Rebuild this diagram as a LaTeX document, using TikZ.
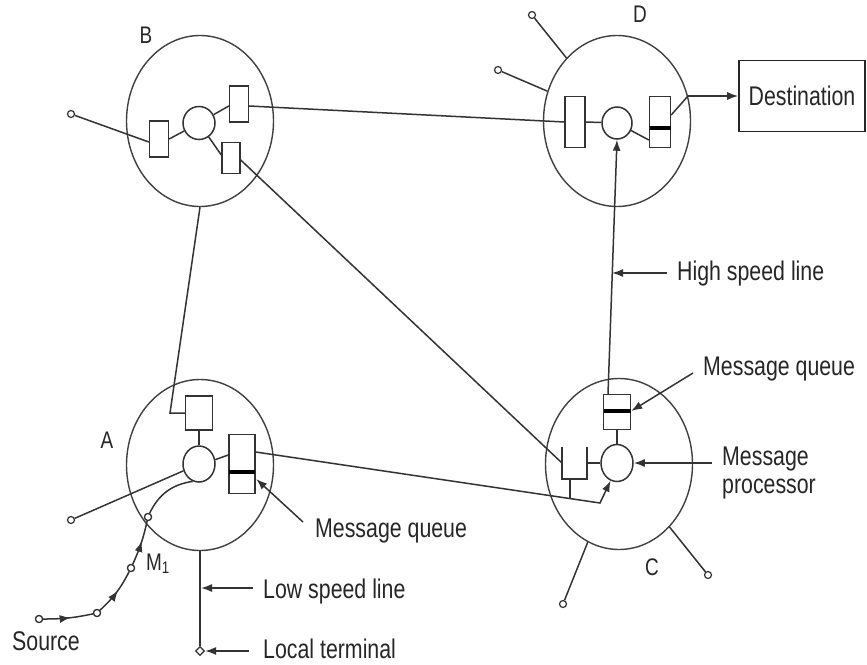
\documentclass[tikz,border=0pt]{standalone}
\usepackage{fontspec}
\usepackage{graphicx}
\setmainfont{Liberation Sans}
\usetikzlibrary{shapes.geometric,arrows.meta,decorations.markings,calc}

% narrow sans lettering
\newcommand\nw[1]{\scalebox{0.79}[1]{#1}}

\tikzset{
  ln/.style={line width=1.5pt, draw=black!80},
  site/.style={ellipse, draw=black!75, line width=1.4pt, minimum width=147pt, minimum height=171pt, inner sep=0},
  proc/.style={ellipse, draw=black!80, line width=1.5pt, inner sep=0, fill=white},
  queue/.style={rectangle, draw=black!80, line width=1.4pt, inner sep=0, fill=white},
  term/.style={circle, draw=black!80, line width=1.2pt, minimum size=7pt, inner sep=0, fill=white},
  dterm/.style={diamond, draw=black!80, line width=1.2pt, minimum size=9pt, inner sep=0, fill=white},
  tip/.style={-{Latex[length=11pt,width=8pt]}},
  bar/.style={line width=3.5pt, draw=black},
  txt/.style={font=\fontsize{27}{28}\selectfont, inner sep=0, text=black!85},
  sitelbl/.style={font=\fontsize{24}{24}\selectfont, inner sep=0, text=black!85},
  midarrow/.style={postaction={decorate}, decoration={markings,
      mark=at position 0.55 with {\arrow{Latex[length=11pt,width=8pt]}}}},
}

\begin{document}
\begin{tikzpicture}[x=1pt, y=-1pt]
\useasboundingbox (0,0) rectangle (867,664);

% ---------- switching sites ----------
\node[site] (B) at (200,121) {};
\node[site] (D) at (617,121) {};
\node[site] (A) at (200,465) {};
\node[site] (C) at (619,464) {};

\node[sitelbl] at (146,35) {\nw{B}};
\node[sitelbl] at (640,14) {\nw{D}};
\node[sitelbl] at (107,440) {\nw{A}};
\node[sitelbl] at (652,567) {\nw{C}};

% ---------- site B ----------
\node[proc, minimum width=32pt, minimum height=33pt] (Bp) at (199,123) {};
\node[queue, minimum width=19pt, minimum height=36pt] (Bq1) at (159,139) {};
\node[queue, minimum width=19pt, minimum height=36pt] (Bq2) at (239,104) {};
\node[queue, minimum width=18pt, minimum height=31pt] (Bq3) at (231,158) {};
\node[term] (Bt) at (71,114) {};

% ---------- site D ----------
\node[proc, minimum width=30pt, minimum height=32pt] (Dp) at (617,123) {};
\node[queue, minimum width=20pt, minimum height=51pt] (Dq1) at (575,122) {};
\node[queue, minimum width=21pt, minimum height=51pt] (Dq2) at (660,122) {};
\node[term] (Dt1) at (532,15) {};
\node[term] (Dt2) at (498,70) {};
\node[draw=black!85, line width=1.6pt, minimum width=126pt, minimum height=71pt, inner sep=0] (Dest) at (802,96) {};
\node[txt] at (Dest) {\nw{Destination}};
\coordinate (Dx) at (688,96);

% ---------- site A ----------
\node[proc, minimum width=32pt, minimum height=36pt] (Ap) at (199,464) {};
\node[queue, minimum width=27pt, minimum height=34pt] (Aq1) at (199,413) {};
\node[queue, minimum width=26pt, minimum height=59pt] (Aq2) at (242,464) {};
\node[term] (At) at (71,520) {};
\node[term] (Am) at (148,517) {};
\node[dterm] (Lt) at (200,651) {};
\coordinate (Bend) at (170,413);

% ---------- site C ----------
\node[proc, minimum width=32pt, minimum height=37pt] (Cp) at (617,463) {};
\node[queue, minimum width=27pt, minimum height=35pt] (Cq) at (617,412) {};
\node[term] (Ct1) at (563,604) {};
\node[term] (Ct2) at (708,575) {};
\coordinate (Cu) at (574.5,463);   % centre of the open receive buffer
\coordinate (Cj) at (600,503);

% ---------- source ----------
\node[term] (S0) at (39,619) {};
\node[term] (S1) at (97,613) {};
\node[term] (S2) at (131,568) {};

% ---------- internal wiring of B ----------
\draw[ln] (Bt) -- ($(Bq1.west)+(0,3)$);
\draw[ln] (Bq1.east) -- (Bp);
\draw[ln] (Bp) -- ($(Bq2.west)+(0,2)$);
\draw[ln] (Bp) -- ($(Bq3.west)+(0,-3)$);

% ---------- internal wiring of D ----------
\draw[ln] (Dt1) -- (D);
\draw[ln] (Dt2) -- (D);
\draw[ln] (Dq1.east) -- (Dp);
\draw[ln] (Dp) -- ($(Dq2.west)+(0,18)$);
\draw[ln] ($(Dq2.east)+(0,-7)$) -- (Dx);
\draw[ln, tip] (Dx) -- (Dest.west);
\draw[bar] ($(Dq2.west)+(0.7,6)$) -- ($(Dq2.east)+(-0.7,6)$);

% ---------- internal wiring of A ----------
\draw[ln] (Aq1) -- (Ap);
\draw[ln] (Ap.15) -- ($(Aq2.west)+(0,-9)$);
\draw[ln] (At) -- (Ap);
\draw[ln] (Am) to[bend left=28] (Ap.250);
\draw[bar] ($(Aq2.west)+(0.7,8)$) -- ($(Aq2.east)+(-0.7,8)$);

% ---------- internal wiring of C ----------
\draw[ln] (Cq) -- (Cp);
\draw[ln] ($(Cu)+(-12.5,-16)$) -- ($(Cu)+(-12.5,16)$) -- ($(Cu)+(12.5,16)$) -- ($(Cu)+(12.5,-16)$);
\draw[ln] ($(Cu)+(12.5,0)$) -- (Cp.west);
\draw[ln] ($(Cu)+(-4.5,16)$) -- ($(Cu)+(-4.5,35)$);
\draw[ln] (Ct1) -- (C);
\draw[ln] (Ct2) -- (C);
\draw[bar] ($(Cq.west)+(0.7,-1)$) -- ($(Cq.east)+(-0.7,-1)$);

% ---------- trunk lines between sites ----------
\draw[ln] ($(Bq2.east)+(0,2)$) -- (Dq1.west);
\draw[ln] ($(Bq3.east)+(0,2)$) -- ($(Cu)+(-12.5,0)$);
\draw[ln] (B.south) -- (Bend) -- (Aq1.west);
\draw[ln, tip] ($(Aq2.east)+(0,-12)$) -- (Cj) -- (Cp.250);
\draw[ln, tip] ($(Cq.north)+(-9,0)$) -- (Dp.south);

% ---------- local line and source path ----------
\draw[ln] (A.south) -- (Lt);
\draw[ln, midarrow] (S0) to[bend right=6] (S1);
\draw[ln, midarrow] (S1) to[bend right=10] (S2);
\draw[ln, midarrow] (S2) to[bend right=6] (Am);
\node[term] at (S0) {};
\node[term] at (S1) {};
\node[term] at (S2) {};
\node[term] at (Am) {};
\node[txt, anchor=base west] at (12,650) {\nw{Source}};
\node[sitelbl, anchor=base west] at (146,570) {\nw{M\textsubscript{1}}};

% ---------- callouts ----------
\coordinate (hsp) at (612,273);
\node[txt, anchor=base west] (hs) at (677,280) {\nw{High speed line}};
\draw[ln, tip] (667,273) -- (hsp);

\node[txt, anchor=base west] (cmq) at (703,375) {\nw{Message queue}};
\draw[ln, tip] (693,373) -- ($(Cq.east)+(0,-1)$);

\node[txt, anchor=west, align=left] (cmp) at (722,473) {\nw{Message}\\\nw{processor}};
\draw[ln, tip] (712,463) -- (Cp.east);

\node[txt, anchor=base west] (amq) at (315,537) {\nw{Message queue}};
\draw[ln, tip] (303,522) -- ($(Aq2.east)+(0.5,15)$);

\coordinate (lsp) at (201,588);
\node[txt, anchor=base west] (lsl) at (263,598) {\nw{Low speed line}};
\draw[ln, tip] (253,588) -- (lsp);

\node[txt, anchor=base west] (ltl) at (263,658) {\nw{Local terminal}};
\draw[ln, tip] (249,651) -- (Lt.east);

\end{tikzpicture}
\end{document}
